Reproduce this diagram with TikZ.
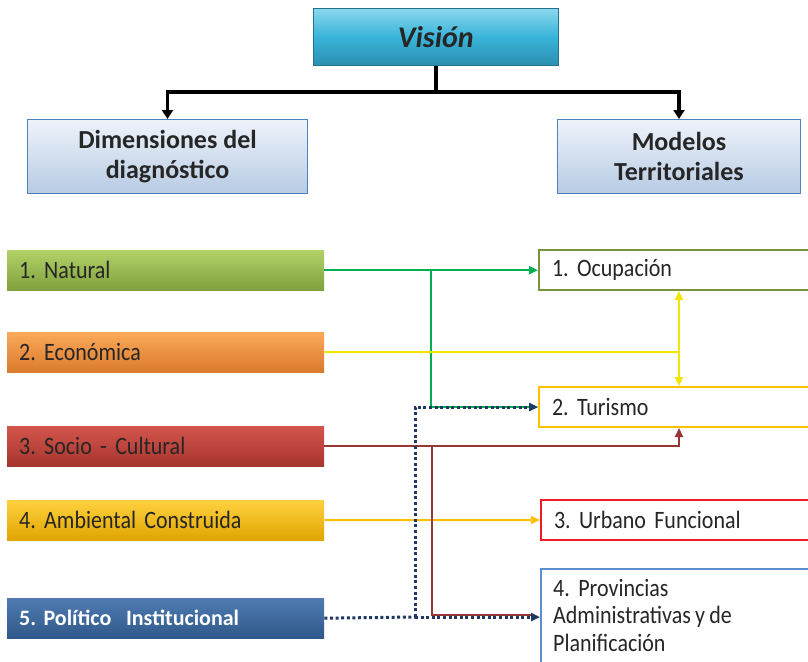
\documentclass[tikz,border=0pt]{standalone}
\usepackage{fontspec}
\setmainfont{Carlito}
\newfontfamily\condfont[FakeStretch=0.88,WordSpace=0.85]{Carlito}
\usetikzlibrary{arrows.meta,calc}
\definecolor{visTop}{HTML}{8AD8EC}
\definecolor{visMid}{HTML}{3AB4DA}
\definecolor{visBot}{HTML}{2B8FB0}
\definecolor{dimTop}{HTML}{EEF3FA}
\definecolor{dimBot}{HTML}{B7CBE4}
\definecolor{dimBd}{HTML}{4F81BD}
\definecolor{natTop}{HTML}{B2D268}
\definecolor{natBot}{HTML}{7FA03C}
\definecolor{ecoTop}{HTML}{FBA95A}
\definecolor{ecoBot}{HTML}{DA7A2C}
\definecolor{socTop}{HTML}{D4554C}
\definecolor{socBot}{HTML}{A5352E}
\definecolor{ambTop}{HTML}{FFD03E}
\definecolor{ambBot}{HTML}{E0A600}
\definecolor{polTop}{HTML}{4F7BB2}
\definecolor{polBot}{HTML}{30598A}
\definecolor{ocuBd}{HTML}{77933C}
\definecolor{turBd}{HTML}{FFC000}
\definecolor{urbBd}{HTML}{EE1C25}
\definecolor{proBd}{HTML}{5B8FD0}
\definecolor{lnGreen}{HTML}{00B050}
\definecolor{lnYellow}{HTML}{F2E600}
\definecolor{lnRed}{HTML}{953735}
\definecolor{lnGold}{HTML}{FFC000}
\definecolor{lnNavy}{HTML}{1F3864}
\definecolor{txt}{HTML}{262626}
\frenchspacing
\tikzset{
  tri/.tip={Triangle[length=9pt,width=8pt]},
  leftbox/.style={rectangle, anchor=north west, minimum width=317pt, minimum height=40pt,
     text width=293pt, align=left, inner xsep=12pt, inner ysep=0pt,
     font=\condfont\fontsize{25}{27}\selectfont, text=txt},
  rightbox/.style={rectangle, anchor=north west, draw, line width=2pt, fill=white,
     minimum width=290pt, minimum height=40pt, text width=264pt, align=left, inner xsep=13pt,
     inner ysep=0pt, font=\condfont\fontsize{25}{27}\selectfont, text=txt},
  headbox/.style={rectangle, anchor=north west, draw=dimBd, line width=1pt,
     top color=dimTop, bottom color=dimBot, align=center,
     font=\bfseries\fontsize{26}{30}\selectfont, text=txt},
  blk/.style={line width=3.5pt, draw=black, -{Triangle[length=9pt,width=11pt]}},
  conn/.style={line width=2pt},
  dotline/.style={line width=3pt, draw=lnNavy, dash pattern=on 3pt off 2.6pt},
}
\begin{document}
\begin{tikzpicture}[x=1pt,y=-1pt]
\clip (0,0) rectangle (808,661);
\fill[white] (0,0) rectangle (808,661);
% top
\node[rectangle, anchor=north west, minimum width=245pt, minimum height=57pt,
  top color=visTop, bottom color=visBot, middle color=visMid, draw=visBot!80!black, line width=0.6pt,
  font=\bfseries\itshape\fontsize{30}{32}\selectfont, text=txt] (vis) at (313,8) {Visión};
\node[headbox, minimum width=280pt, minimum height=74pt] (dim) at (27,119) {Dimensiones del\\diagnóstico};
\node[headbox, minimum width=243pt, minimum height=74pt] (mod) at (557,119) {Modelos\\Territoriales};
\coordinate (vj) at (vis.south |- 0,92);
\draw[line width=3.5pt] (vis.south) -- (vj);
\draw[blk] (vj) -| (dim.north);
\draw[blk] (vj) -| (mod.north);
% left boxes
\node[leftbox, top color=natTop, bottom color=natBot] (nat) at (7,250) {1. Natural};
\node[leftbox, top color=ecoTop, bottom color=ecoBot] (eco) at (7,332) {2. Económica};
\node[leftbox, top color=socTop, bottom color=socBot] (soc) at (7,426) {3. Socio - Cultural};
\node[leftbox, top color=ambTop, bottom color=ambBot] (amb) at (7,500) {4. Ambiental Construida};
\node[leftbox, top color=polTop, bottom color=polBot, text=white,
  font=\bfseries\fontsize{22}{24}\selectfont] (pol) at (7,598) {5. Político\ \ Institucional};
% right boxes
\node[rightbox, draw=ocuBd] (ocu) at (538,249) {1. Ocupación};
\node[rightbox, draw=turBd] (tur) at (538,386) {2. Turismo};
\node[rightbox, draw=urbBd] (urb) at (540,499) {3. Urbano Funcional};
\node[rightbox, draw=proBd, minimum height=100pt] (pro) at (540,568) {};
\node[anchor=north west, align=left, font=\condfont\fontsize{25}{27.5}\selectfont, text=txt, inner sep=0pt]
  (protext) at (553,579) {4.\ \ Provincias\\Administrativas y de\\Planificación};
\coordinate (proin) at (540,617);
% connectors
\coordinate (gj) at (431,0 |- nat.east);
\draw[conn, draw=lnGreen, -tri, color=lnGreen] (nat.east) -- (nat.east -| ocu.west);
\draw[conn, draw=lnGreen, -tri, color=lnGreen] (gj) |- (tur.west);
\coordinate (yj) at (679,352);
\draw[conn, draw=lnYellow] (eco.east) -- (yj);
\draw[conn, draw=lnYellow, -tri, color=lnYellow] (yj) -- (yj |- ocu.south);
\draw[conn, draw=lnYellow, -tri, color=lnYellow] (yj) -- (yj |- tur.north);
\coordinate (rj) at (432,0 |- soc.east);
\draw[conn, draw=lnRed, -tri, color=lnRed] (soc.east) -| (yj |- tur.south);
\draw[conn, draw=lnGold, -tri, color=lnGold] (amb.east) -- (urb.west);
\coordinate (dj) at (415,617);
\draw[dotline] (pol.east) -- (dj);
\draw[dotline, -tri, color=lnNavy] (dj) |- (tur.west);
\draw[conn, draw=lnRed] (rj) |- ($(proin)+(-8,-2)$);
\draw[dotline, -tri, color=lnNavy] (dj) -- (proin);
\end{tikzpicture}
\end{document}
